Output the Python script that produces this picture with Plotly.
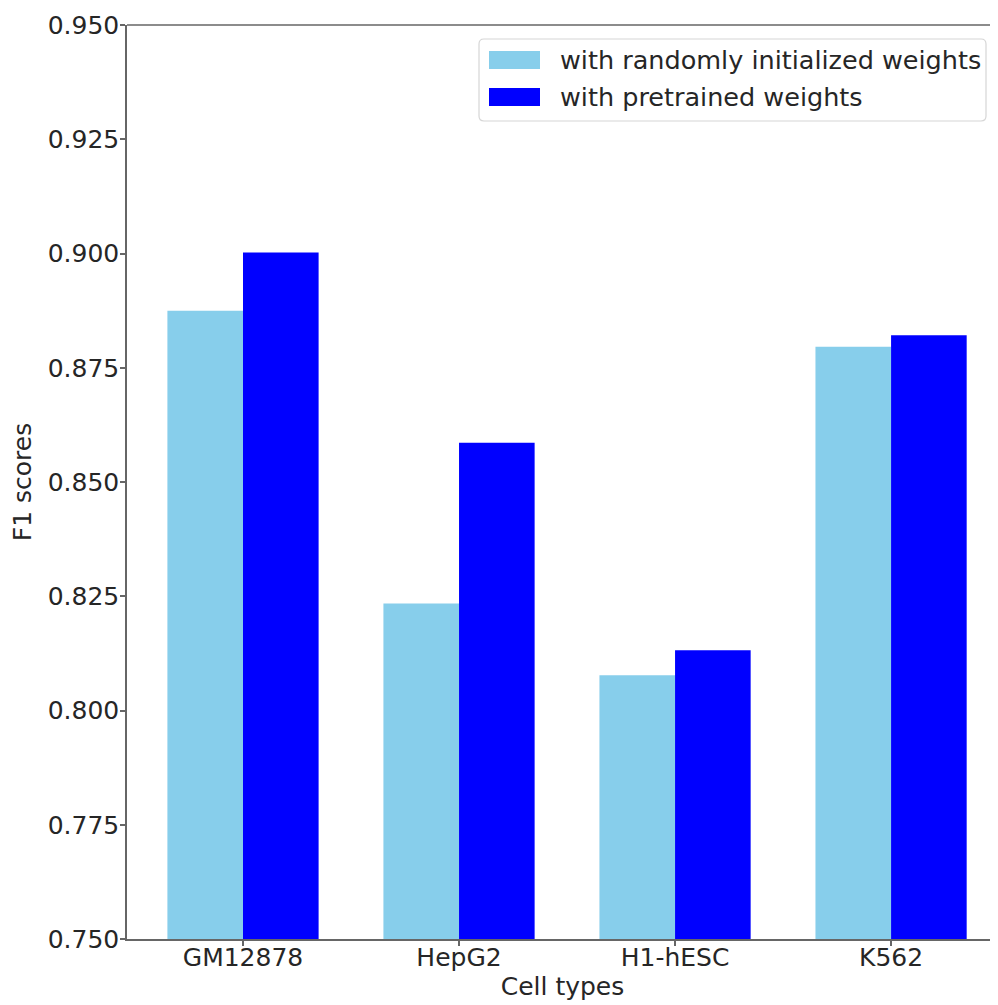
import plotly.graph_objects as go

categories = ["GM12878", "HepG2", "H1-hESC", "K562"]
random_init = [0.8875, 0.8234, 0.8077, 0.8796]
pretrained = [0.9002, 0.8586, 0.8132, 0.8821]
series_names = ["with randomly initialized weights", "with pretrained weights"]
series_colors = ["#87CEEB", "#0000FF"]
y_ticks = [0.750, 0.775, 0.800, 0.825, 0.850, 0.875, 0.900, 0.925, 0.950]

FONT = "DejaVu Sans"
FS = 25
TEXT_COLOR = "#262626"
AXIS_COLOR = "#666666"

# page is offset by the 8px body margin; plot area spans page px x 127..998, y 25..939
PX0, PX1, PY0, PY1 = 127, 998, 25, 939


def px(x):
    return (x - PX0) / (PX1 - PX0)


def py(y):
    return (PY1 - y) / (PY1 - PY0)


fig = go.Figure()
for name, vals, col in zip(series_names, [random_init, pretrained], series_colors):
    fig.add_trace(go.Bar(x=categories, y=vals, name=name,
                         marker=dict(color=col, line=dict(width=0))))

# manual legend (matplotlib style)
lx0, lx1, ly0, ly1, r = 479, 986, 39, 121, 5
rx = r / (PX1 - PX0)
ry = r / (PY1 - PY0)
X0, X1, Y0, Y1 = px(lx0), px(lx1), py(ly1), py(ly0)
path = (f"M{X0+rx},{Y0} L{X1-rx},{Y0} Q{X1},{Y0} {X1},{Y0+ry} "
        f"L{X1},{Y1-ry} Q{X1},{Y1} {X1-rx},{Y1} L{X0+rx},{Y1} "
        f"Q{X0},{Y1} {X0},{Y1-ry} L{X0},{Y0+ry} Q{X0},{Y0} {X0+rx},{Y0} Z")
shapes = [
    dict(type="line", xref="paper", yref="paper", x0=0, x1=1, y0=1, y1=1,
         line=dict(color=AXIS_COLOR, width=1.5)),
    dict(type="path", xref="paper", yref="paper", path=path,
         fillcolor="rgba(255,255,255,0.8)", line=dict(color="#d6d6d6", width=1.2)),
]
annotations = []
rows = [(51, 69), (88, 106)]
for (t, b), name, col in zip(rows, series_names, series_colors):
    shapes.append(dict(type="rect", xref="paper", yref="paper",
                       x0=px(489), x1=px(540), y0=py(b), y1=py(t),
                       fillcolor=col, line=dict(width=0)))
    annotations.append(dict(xref="paper", yref="paper", x=px(558), y=py((t + b) / 2),
                            xanchor="left", yanchor="middle", text=name, showarrow=False,
                            font=dict(family=FONT, size=25.5, color=TEXT_COLOR)))

fig.update_layout(
    width=990, height=997,
    margin=dict(l=119, r=0, t=17, b=66, pad=0),
    paper_bgcolor="white", plot_bgcolor="white",
    barmode="group", bargap=0.3, bargroupgap=0,
    font=dict(family=FONT, size=FS, color=TEXT_COLOR),
    showlegend=False,
    xaxis=dict(type="category", range=[-0.537, 3.495],
               showline=True, linecolor=AXIS_COLOR, linewidth=1.5,
               ticks="outside", ticklen=5, tickcolor=AXIS_COLOR, tickwidth=1.5,
               ticklabelstandoff=-10, tickfont=dict(size=FS),
               showgrid=False, zeroline=False,
               title=dict(text="Cell types", standoff=4,
                          font=dict(family=FONT, size=FS, color=TEXT_COLOR))),
    yaxis=dict(range=[0.75, 0.95], tickvals=y_ticks,
               ticktext=[f"{v:.3f}" for v in y_ticks],
               showline=True, linecolor=AXIS_COLOR, linewidth=1.5,
               ticks="outside", ticklen=5, tickcolor=AXIS_COLOR, tickwidth=1.5,
               ticklabelstandoff=-4, tickfont=dict(size=FS),
               showgrid=False, zeroline=False,
               title=dict(text="F1 scores", standoff=15,
                          font=dict(family=FONT, size=FS, color=TEXT_COLOR))),
    shapes=shapes,
    annotations=annotations,
)

fig.write_html("out.html")
